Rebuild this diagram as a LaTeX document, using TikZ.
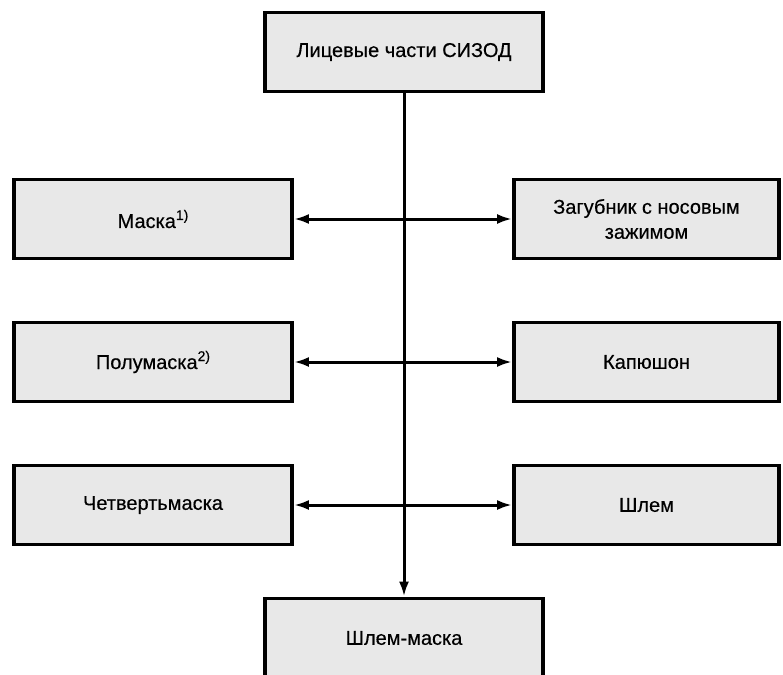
\documentclass[tikz,border=0pt]{standalone}
\usepackage{fontspec}
\setmainfont{Liberation Sans}[FakeBold=0.35]
\usetikzlibrary{arrows.meta}
\newcommand{\supnote}[1]{\raisebox{8pt}{\fontsize{14}{14}\selectfont #1}}
\begin{document}
\begin{tikzpicture}[x=1pt,y=-1pt,
  box/.style={draw=black, line width=3.8pt, fill=black!9, minimum height=79pt, inner sep=0pt, align=center,
    font=\fontsize{20}{25}\selectfont},
  wbox/.style={box, minimum width=278pt},
  rbox/.style={box, minimum width=265pt},
  conn/.style={line width=3pt, draw=black},
  tip/.style={-{Latex[length=15pt,width=10pt]}},
  bothtip/.style={{Latex[length=15pt,width=10pt]}-{Latex[length=15pt,width=10pt]}}]
\useasboundingbox (0,0) rectangle (783,674);
\clip (0,0) rectangle (783,674);
\node[wbox] (top) at (404,52) {Лицевые части СИЗОД};
\node[wbox] (maska) at (153,219) {Маска\supnote{1)}};
\node[rbox] (zag) at (646.5,219) {Загубник с носовым\\зажимом};
\node[wbox] (polu) at (153,362) {Полумаска\supnote{2)}};
\node[rbox] (kap) at (646.5,362) {Капюшон};
\node[wbox] (chet) at (153,505) {Четвертьмаска};
\node[rbox] (shlem) at (646.5,505) {Шлем};
\node[wbox] (sm) at (404,638) {Шлем-маска};
\draw[conn,tip] (top.south) -- (sm.north);
\draw[conn,bothtip] (maska.east) -- (zag.west);
\draw[conn,bothtip] (polu.east) -- (kap.west);
\draw[conn,bothtip] (chet.east) -- (shlem.west);
\end{tikzpicture}
\end{document}
